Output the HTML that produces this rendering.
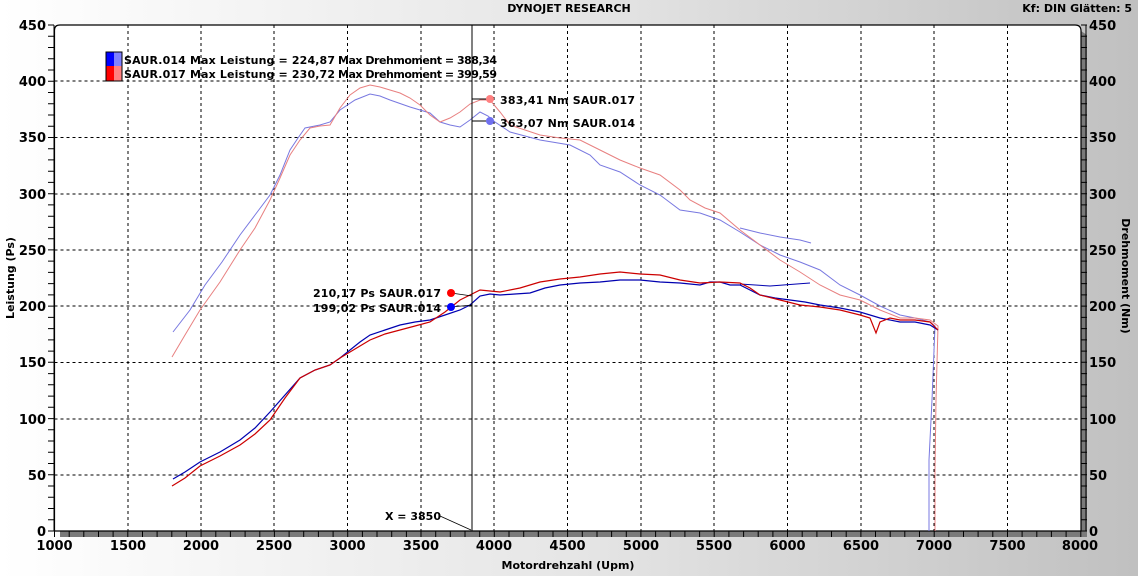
<!DOCTYPE html>
<html><head><meta charset="utf-8"><style>
html,body{margin:0;padding:0}
body{width:1138px;height:576px;overflow:hidden;background:linear-gradient(90deg,#ffffff 0%,#e6e6e6 50%,#c0c0c0 100%)}
svg{display:block}
text{font-family:"DejaVu Sans","Liberation Sans",sans-serif;font-weight:bold;fill:#000}
</style></head><body>
<svg width="1138" height="576" viewBox="0 0 1138 576" xmlns="http://www.w3.org/2000/svg">
<text x="569" y="12" font-size="11" text-anchor="middle">DYNOJET RESEARCH</text>
<text x="1132" y="12" font-size="11" text-anchor="end">Kf: DIN  Glätten: 5</text>
<!-- shadow -->
<path d="M60,531 L1081,531 L1081,31 L1087,35 L1087,537 L60,537 Z" fill="#7a7a7a"/>
<path d="M54.5,531 L54.5,30 Q54.5,25 60,25 L1075,25 Q1081,25 1081,31 L1081,531 Z" fill="#fff" stroke="#000" stroke-width="1.2"/>
<g stroke="#000" stroke-width="1" stroke-dasharray="3,3" fill="none">
<path d="M128,25V531M201,25V531M274,25V531M347.5,25V531M421,25V531M494,25V531M567.5,25V531M641,25V531M714,25V531M787.5,25V531M861,25V531M934,25V531M1007.5,25V531"/>
<path d="M54.5,81H1081M54.5,137.5H1081M54.5,194H1081M54.5,250H1081M54.5,306H1081M54.5,362.5H1081M54.5,419H1081M54.5,475H1081"/>
</g>
<g id="tk" stroke="#000" stroke-width="1" fill="none"></g>
<script>
(function(){var d="M54,25V531M1086,25V531M54,531H1086";
for(var i=0;i<=45;i++){var y=(531-i*11.244).toFixed(1);d+="M48,"+y+"H54M1081,"+y+"H1087";}
for(var j=0;j<=70;j++){var x=(54.5+j*14.661).toFixed(1);d+="M"+x+",531V537";}
var p=document.createElementNS("http://www.w3.org/2000/svg","path");p.setAttribute("d",d);
document.getElementById("tk").appendChild(p);})();
</script>
<g font-size="13">
<text x="46" y="30" text-anchor="end">450</text><text x="46" y="86" text-anchor="end">400</text><text x="46" y="142" text-anchor="end">350</text><text x="46" y="199" text-anchor="end">300</text><text x="46" y="255" text-anchor="end">250</text><text x="46" y="311" text-anchor="end">200</text><text x="46" y="367" text-anchor="end">150</text><text x="46" y="424" text-anchor="end">100</text><text x="46" y="480" text-anchor="end">50</text><text x="46" y="536" text-anchor="end">0</text>
<text x="1089" y="30">450</text><text x="1089" y="86">400</text><text x="1089" y="142">350</text><text x="1089" y="199">300</text><text x="1089" y="255">250</text><text x="1089" y="311">200</text><text x="1089" y="367">150</text><text x="1089" y="424">100</text><text x="1089" y="480">50</text><text x="1089" y="536">0</text>
<g text-anchor="middle">
<text x="54.5" y="550">1000</text><text x="128" y="550">1500</text><text x="201" y="550">2000</text><text x="274" y="550">2500</text><text x="347.5" y="550">3000</text><text x="421" y="550">3500</text><text x="494" y="550">4000</text><text x="567.5" y="550">4500</text><text x="641" y="550">5000</text><text x="714" y="550">5500</text><text x="787.5" y="550">6000</text><text x="861" y="550">6500</text><text x="934" y="550">7000</text><text x="1007.5" y="550">7500</text><text x="1080" y="550">8000</text>
</g>
</g>
<text x="568" y="569" font-size="11" text-anchor="middle">Motordrehzahl (Upm)</text>
<text transform="translate(14,278) rotate(-90)" font-size="11" text-anchor="middle">Leistung (Ps)</text>
<text transform="translate(1122,276) rotate(90)" font-size="11" text-anchor="middle">Drehmoment (Nm)</text>
<!-- legend -->
<rect x="106" y="52" width="8" height="14" fill="#0000ff"/><rect x="114" y="52" width="8" height="14" fill="#8080ff"/>
<rect x="106" y="66" width="8" height="15" fill="#ff0000"/><rect x="114" y="66" width="8" height="15" fill="#ff8080"/>
<rect x="106" y="52" width="16" height="29" fill="none" stroke="#000" stroke-width="1"/>
<text x="124" y="64" font-size="11" textLength="211" lengthAdjust="spacing">SAUR.014 Max Leistung = 224,87</text>
<text x="338" y="64" font-size="11" textLength="159" lengthAdjust="spacing">Max Drehmoment = 388,34</text>
<text x="124" y="78" font-size="11" textLength="211" lengthAdjust="spacing">SAUR.017 Max Leistung = 230,72</text>
<text x="338" y="78" font-size="11" textLength="159" lengthAdjust="spacing">Max Drehmoment = 399,59</text>
<!-- torque curves -->
<polyline fill="none" stroke="#7878e0" stroke-width="1" points="173,332 190,310 205,285 222,262 240,235 255,215 270,195 280,175 290,150 298,138 305,128 320,125 330,122 340,110 355,100 370,94 380,96 390,100 410,107 430,113 440,122 450,125 460,127 470,120 480,112 488,116 495,122 510,132 540,140 570,145 590,155 600,165 620,172 640,185 660,195 680,210 700,213 720,220 740,232 760,245 780,255 800,262 820,270 840,285 860,295 880,306 900,315 915,318 930,322 935,326 932,400 929,460 929,531"/>
<polyline fill="none" stroke="#7878e0" stroke-width="1" points="740,228 760,233 780,237 800,240 811,243"/>
<polyline fill="none" stroke="#e88080" stroke-width="1" points="172,357 185,335 200,310 220,282 240,250 255,228 270,200 280,178 290,155 300,140 310,128 320,126 330,125 340,108 350,95 360,88 370,85 380,87 390,90 400,93 410,98 420,105 430,115 440,122 450,118 460,112 470,104 480,100 490,100 500,112 510,125 525,130 540,135 560,138 580,140 600,150 620,160 640,168 660,175 680,190 690,200 705,208 720,213 740,230 760,245 780,260 800,272 820,285 840,295 860,300 880,310 900,318 915,318 930,320 938,326 936,400 935,470 935,531"/>
<!-- power curves -->
<polyline fill="none" stroke="#0000b0" stroke-width="1.2" points="173,479 185,472 200,462 220,452 240,440 255,428 270,412 285,395 300,378 315,370 330,365 340,358 350,350 360,342 370,335 385,330 400,325 415,322 430,320 445,315 460,310 470,305 480,296 490,294 500,295 515,294 530,293 545,288 560,285 580,283 600,282 620,280 640,280 660,282 680,283 700,285 710,282 720,282 730,285 740,285 750,290 760,295 775,298 790,300 805,302 820,305 840,308 860,312 880,318 900,322 915,322 930,325 938,330"/>
<polyline fill="none" stroke="#0000b0" stroke-width="1" points="740,284 770,286 810,283"/>
<polyline fill="none" stroke="#cc0000" stroke-width="1.2" points="172,486 185,478 200,466 220,456 240,445 255,434 270,420 285,398 300,378 315,370 330,365 340,358 350,352 360,346 370,340 385,334 400,330 415,326 430,322 445,312 460,300 470,295 480,290 490,291 500,292 520,288 540,282 560,279 580,277 600,274 620,272 640,274 660,275 680,280 700,283 720,282 740,283 750,288 760,295 780,300 800,305 820,307 840,310 860,315 870,318 876,333 880,322 890,318 900,320 915,320 930,322 938,330"/>
<!-- cursor -->
<line x1="472" y1="25" x2="472" y2="531" stroke="#000" stroke-width="1"/>
<text x="385" y="520" font-size="11">X = 3850</text>
<line x1="440" y1="516" x2="471" y2="530" stroke="#000" stroke-width="0.8"/>
<line x1="472" y1="99" x2="490" y2="99" stroke="#000"/><line x1="472" y1="121" x2="490" y2="121" stroke="#000"/>
<line x1="451" y1="293" x2="472" y2="296" stroke="#000" stroke-width="0.8"/><line x1="451" y1="307" x2="472" y2="305" stroke="#000" stroke-width="0.8"/>
<circle cx="490" cy="99" r="4" fill="#ff8080"/><circle cx="490" cy="121" r="4" fill="#7070f0"/>
<circle cx="451" cy="293" r="4" fill="#ff0000"/><circle cx="451" cy="307" r="4" fill="#0000ff"/>
<text x="500" y="104" font-size="11" textLength="135" lengthAdjust="spacing">383,41 Nm SAUR.017</text>
<text x="500" y="127" font-size="11" textLength="135" lengthAdjust="spacing">363,07 Nm SAUR.014</text>
<text x="313" y="297" font-size="11" textLength="128" lengthAdjust="spacing">210,17 Ps SAUR.017</text>
<text x="313" y="312" font-size="11" textLength="128" lengthAdjust="spacing">199,02 Ps SAUR.014</text>
</svg>
</body></html>
